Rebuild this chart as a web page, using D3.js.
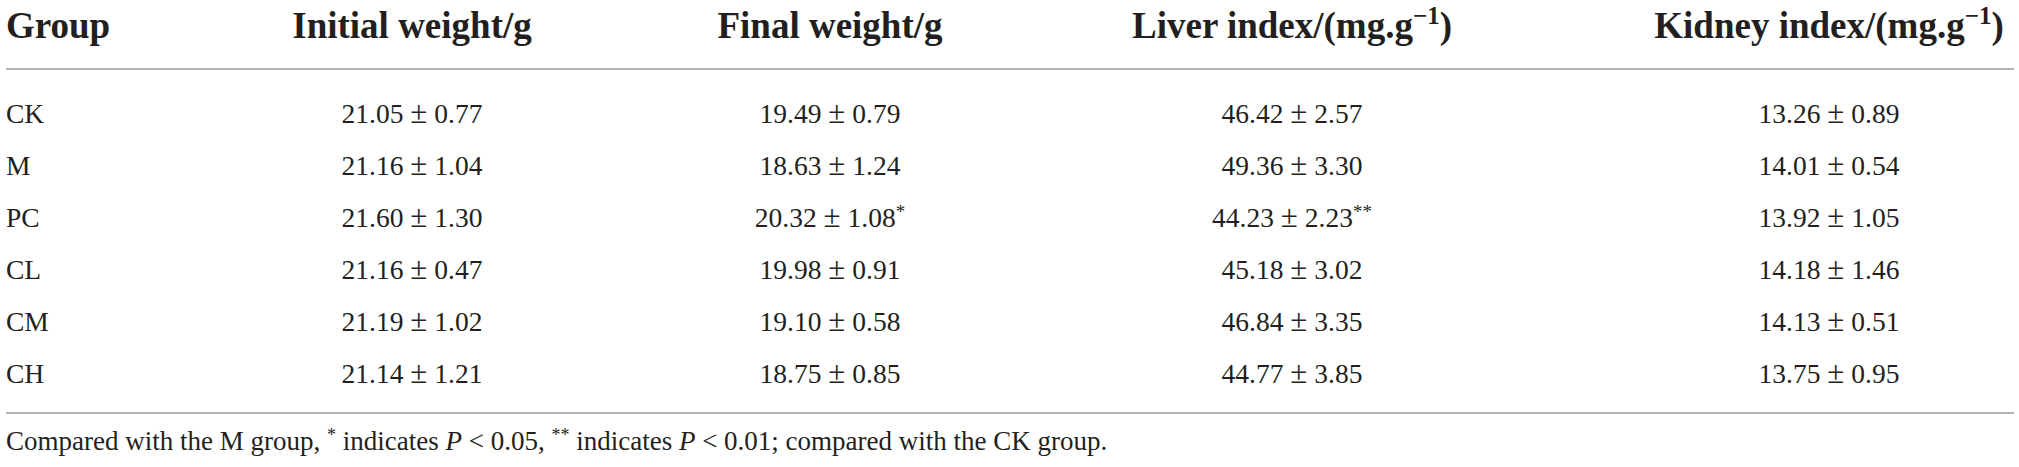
<!DOCTYPE html>
<html lang="en">
<head>
  <meta charset="UTF-8">
  <title>Table</title>
  <script src="https://cdn.jsdelivr.net/npm/d3@7"></script>
  <style>
    html, body { margin: 0; padding: 0; background: #fff; }
    svg { display: block; }
    text { font-family: "Liberation Serif", "DejaVu Serif", serif; fill: #231f20; }
    .head { font-weight: bold; font-size: 37px; }
    .cell { font-size: 27.5px; }
    .note { font-size: 27px; }
    .rule { stroke: #9a9a9a; stroke-width: 1.6; }
  </style>
</head>
<body>
  <svg></svg>
  <script>
    const groups = ['CK', 'M', 'PC', 'CL', 'CM', 'CH']
    const columns = ['Initial weight/g', 'Final weight/g', 'Liver index/(mg.g', 'Kidney index/(mg.g']
    const unitSup = [null, null, '\u22121', '\u22121']
    const initialMean = [21.05, 21.16, 21.60, 21.16, 21.19, 21.14]
    const initialSd = [0.77, 1.04, 1.30, 0.47, 1.02, 1.21]
    const finalMean = [19.49, 18.63, 20.32, 19.98, 19.10, 18.75]
    const finalSd = [0.79, 1.24, 1.08, 0.91, 0.58, 0.85]
    const finalSig = ['', '', '*', '', '', '']
    const liverMean = [46.42, 49.36, 44.23, 45.18, 46.84, 44.77]
    const liverSd = [2.57, 3.30, 2.23, 3.02, 3.35, 3.85]
    const liverSig = ['', '', '**', '', '', '']
    const kidneyMean = [13.26, 14.01, 13.92, 14.18, 14.13, 13.75]
    const kidneySd = [0.89, 0.54, 1.05, 1.46, 0.51, 0.95]

    const W = 2019, H = 467
    const svg = d3.select('svg').attr('width', W).attr('height', H)

    const fmt = d3.format('.2f')
    const series = [
      { mean: initialMean, sd: initialSd, sig: null },
      { mean: finalMean, sd: finalSd, sig: finalSig },
      { mean: liverMean, sd: liverSd, sig: liverSig },
      { mean: kidneyMean, sd: kidneySd, sig: null }
    ]

    const xCol = d3.scaleOrdinal().domain(columns).range([412, 830, 1292, 1829])
    const yRow = d3.scalePoint().domain(groups).range([123, 383])
    const left = 6, right = 2014
    const headY = 38, topRule = 69, bottomRule = 413, noteY = 450

    // header
    svg.append('text').attr('class', 'head').attr('x', left).attr('y', headY).text('Group')
    columns.forEach((c, i) => {
      const t = svg.append('text').attr('class', 'head')
        .attr('x', xCol(c)).attr('y', headY).attr('text-anchor', 'middle')
      t.append('tspan').text(c)
      if (unitSup[i]) {
        t.append('tspan').attr('dy', -14).attr('font-size', 25).text(unitSup[i])
        t.append('tspan').attr('dy', 14).text(')')
      }
    })

    svg.append('line').attr('class', 'rule').attr('x1', left).attr('x2', right)
      .attr('y1', topRule).attr('y2', topRule)
    svg.append('line').attr('class', 'rule').attr('x1', left).attr('x2', right)
      .attr('y1', bottomRule).attr('y2', bottomRule)

    // group labels
    svg.selectAll('.grp')
      .data(groups)
      .enter()
      .append('text')
      .attr('class', 'cell grp')
      .attr('x', left)
      .attr('y', d => yRow(d))
      .text(d => d)

    // value cells, mean ± sd with significance marks
    series.forEach((s, ci) => {
      groups.forEach((g, ri) => {
        const t = svg.append('text').attr('class', 'cell')
          .attr('x', xCol(columns[ci])).attr('y', yRow(g)).attr('text-anchor', 'middle')
        t.append('tspan').text(`${fmt(s.mean[ri])} `)
        t.append('tspan').attr('font-size', 31).text('\u00b1')
        t.append('tspan').text(` ${fmt(s.sd[ri])}`)
        const mark = s.sig ? s.sig[ri] : ''
        if (mark) {
          t.append('tspan').attr('dy', -9).attr('font-size', 19).text(mark)
        }
      })
    })

    // footnote
    const note = svg.append('text').attr('class', 'note').attr('x', left).attr('y', noteY)
    note.append('tspan').text('Compared with the M group, ')
    note.append('tspan').attr('dy', -9).attr('font-size', 18).text('*')
    note.append('tspan').attr('dy', 9).text(' indicates ')
    note.append('tspan').attr('font-style', 'italic').text('P')
    note.append('tspan').text(' < 0.05, ')
    note.append('tspan').attr('dy', -9).attr('font-size', 18).text('**')
    note.append('tspan').attr('dy', 9).text(' indicates ')
    note.append('tspan').attr('font-style', 'italic').text('P')
    note.append('tspan').text(' < 0.01; compared with the CK group.')
  </script>
</body>
</html>
